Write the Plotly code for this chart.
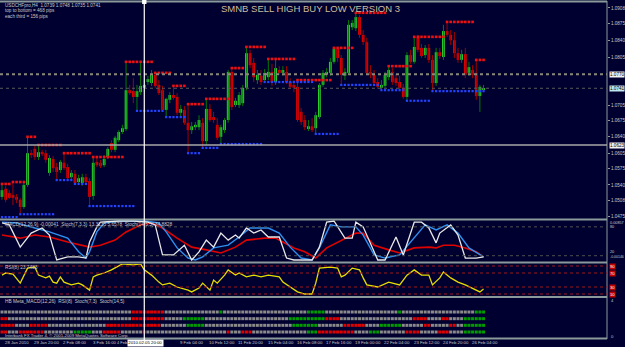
import plotly.graph_objects as go

W, H = 625, 347
PX_RIGHT = 607          # right edge of the chart area in pixels
BG = "#000030"

# ---------------- data ----------------
opens = [1.0515,1.0532,1.0523,1.0519,1.0515,1.0509,1.0494,1.0540,1.0606,1.0615,
         1.0598,1.0608,1.0606,1.0565,1.0594,1.0577,1.0571,1.0586,1.0577,1.0556,
         1.0563,1.0546,1.0544,1.0556,1.0548,1.0517,1.0588,1.0586,1.0581,1.0598,
         1.0627,1.0613,1.0633,1.0650,1.0656,1.0737,1.0735,1.0723,1.0733,1.0742,
         1.0754,1.0752,1.0769,1.0748,1.0737,1.0696,1.0717,1.0727,1.0723,1.0690,
         1.0696,1.0669,1.0654,1.0660,1.0660,1.0669,1.0631,1.0698,1.0681,1.0665,
         1.0640,1.0654,1.0675,1.0775,1.0706,1.0706,1.0710,1.0742,1.0814,1.0794,
         1.0758,1.0767,1.0758,1.0764,1.0775,1.0754,1.0779,1.0773,1.0775,1.0754,
         1.0748,1.0744,1.0692,1.0675,1.0658,1.0662,1.0658,1.0681,1.0748,1.0769,
         1.0773,1.0796,1.0823,1.0804,1.0767,1.0773,1.0868,1.0866,1.0889,1.0852,
         1.0837,1.0775,1.0769,1.0754,1.0742,1.0746,1.0764,1.0775,1.0762,1.0754,
         1.0742,1.0723,1.0810,1.0796,1.0846,1.0825,1.0810,1.0825,1.0800,1.0752,
         1.0816,1.0806,1.0860,1.0852,1.0841,1.0814,1.0800,1.0812,1.0773,1.0779,
         1.0773,1.0725,1.0739]
highs = [1.0542,1.0538,1.0529,1.0546,1.0521,1.0513,1.0544,1.0640,1.0613,1.0621,
         1.0623,1.0613,1.0613,1.0602,1.0600,1.0586,1.0592,1.0606,1.0584,1.0571,
         1.0571,1.0561,1.0563,1.0563,1.0554,1.0598,1.0596,1.0592,1.0602,1.0619,
         1.0633,1.0642,1.0654,1.0665,1.0796,1.0748,1.0762,1.0748,1.0794,1.0758,
         1.0767,1.0779,1.0773,1.0758,1.0746,1.0721,1.0733,1.0746,1.0731,1.0706,
         1.0704,1.0708,1.0671,1.0671,1.0685,1.0679,1.0719,1.0708,1.0692,1.0679,
         1.0665,1.0679,1.0779,1.0783,1.0721,1.0733,1.0748,1.0827,1.0821,1.0804,
         1.0779,1.0779,1.0781,1.0802,1.0792,1.0800,1.0787,1.0787,1.0787,1.0762,
         1.0758,1.0758,1.0700,1.0685,1.0675,1.0679,1.0692,1.0752,1.0779,1.0783,
         1.0804,1.0825,1.0825,1.0810,1.0783,1.0883,1.0883,1.0898,1.0893,1.0862,
         1.0846,1.0789,1.0779,1.0762,1.0758,1.0775,1.0787,1.0783,1.0771,1.0767,
         1.0750,1.0816,1.0821,1.0848,1.0852,1.0833,1.0831,1.0833,1.0810,1.0825,
         1.0825,1.0873,1.0879,1.0862,1.0858,1.0825,1.0821,1.0825,1.0796,1.0789,
         1.0800,1.0748,1.0748]
lows = [1.0509,1.0504,1.0511,1.0498,1.0502,1.0480,1.0490,1.0536,1.0596,1.0592,
        1.0592,1.0600,1.0586,1.0559,1.0567,1.0550,1.0565,1.0571,1.0550,1.0550,
        1.0542,1.0540,1.0538,1.0542,1.0496,1.0509,1.0577,1.0575,1.0577,1.0594,
        1.0608,1.0608,1.0629,1.0646,1.0652,1.0727,1.0710,1.0694,1.0727,1.0733,
        1.0748,1.0746,1.0742,1.0727,1.0692,1.0681,1.0710,1.0717,1.0685,1.0683,
        1.0665,1.0606,1.0646,1.0654,1.0654,1.0617,1.0623,1.0671,1.0669,1.0633,
        1.0625,1.0648,1.0669,1.0696,1.0702,1.0700,1.0704,1.0737,1.0783,1.0754,
        1.0750,1.0748,1.0754,1.0758,1.0746,1.0748,1.0769,1.0767,1.0750,1.0742,
        1.0733,1.0671,1.0665,1.0654,1.0652,1.0650,1.0646,1.0677,1.0744,1.0764,
        1.0767,1.0792,1.0796,1.0748,1.0758,1.0769,1.0862,1.0860,1.0846,1.0831,
        1.0769,1.0762,1.0746,1.0740,1.0737,1.0742,1.0758,1.0748,1.0746,1.0737,
        1.0719,1.0715,1.0792,1.0792,1.0816,1.0804,1.0804,1.0794,1.0735,1.0746,
        1.0802,1.0800,1.0848,1.0831,1.0804,1.0794,1.0794,1.0762,1.0767,1.0762,
        1.0717,1.0692,1.0735]
closes = [1.0529,1.0509,1.0513,1.0513,1.0509,1.0494,1.0540,1.0606,1.0602,1.0598,
          1.0608,1.0604,1.0592,1.0596,1.0575,1.0567,1.0588,1.0575,1.0554,1.0565,
          1.0544,1.0554,1.0556,1.0546,1.0515,1.0586,1.0581,1.0579,1.0594,1.0615,
          1.0613,1.0638,1.0650,1.0658,1.0737,1.0731,1.0723,1.0735,1.0746,1.0748,
          1.0760,1.0769,1.0746,1.0731,1.0696,1.0719,1.0727,1.0721,1.0690,1.0698,
          1.0669,1.0654,1.0662,1.0665,1.0675,1.0631,1.0698,1.0675,1.0675,1.0638,
          1.0660,1.0675,1.0775,1.0702,1.0715,1.0727,1.0742,1.0814,1.0789,1.0764,
          1.0769,1.0754,1.0773,1.0775,1.0754,1.0783,1.0773,1.0779,1.0754,1.0744,
          1.0742,1.0675,1.0671,1.0660,1.0662,1.0654,1.0685,1.0748,1.0773,1.0775,
          1.0796,1.0823,1.0804,1.0769,1.0775,1.0873,1.0877,1.0889,1.0852,1.0837,
          1.0773,1.0769,1.0752,1.0744,1.0748,1.0769,1.0779,1.0754,1.0752,1.0742,
          1.0723,1.0810,1.0796,1.0827,1.0821,1.0808,1.0825,1.0800,1.0752,1.0816,
          1.0808,1.0860,1.0852,1.0841,1.0814,1.0800,1.0812,1.0769,1.0785,1.0769,
          1.0725,1.0744,1.0741]

# SMNB levels: (first bar, last bar, price)
sell_levels = [(0,2,1.0542),(3,6,1.0546),(7,9,1.0640),(10,16,1.0623),(17,24,1.0606),
               (25,33,1.0598),(34,41,1.0796),(42,46,1.0773),(47,50,1.0746),(51,55,1.0708),
               (56,62,1.0719),(63,66,1.0783),(67,72,1.0827),(73,80,1.0802),(81,90,1.0758),
               (91,96,1.0825),(97,105,1.0898),(106,112,1.0787),(113,121,1.0848),
               (122,129,1.0879),(130,132,1.0800)]
buy_levels = [(0,4,1.0473),(5,14,1.0479),(15,19,1.0550),(20,23,1.0542),(24,36,1.0496),
              (37,44,1.0694),(45,50,1.0681),(51,54,1.0606),(55,59,1.0617),(60,71,1.0625),
              (72,85,1.0754),(86,92,1.0646),(93,103,1.0748),(104,110,1.0737),
              (111,117,1.0715),(118,132,1.0735)]

hlines = {"line": 1.0770, "bid": 1.0741, "low": 1.0623}
price_ticks = [1.0908,1.0875,1.0840,1.0805,1.0705,1.0675,1.0640,1.0605,1.0575,1.0540,1.0508,1.0475]

# oscillator pane (0-100 scale)
stoch_fast_idx = [0,2,5,8,11,13,15,18,21,23,24,26,27,32,36,40,42,44,47,50,52,54,56,58,60,62,64,65,67,69,
                  71,73,76,78,80,85,87,89,91,94,96,97,99,103,105,108,110,113,115,117,119,120,123,125,127,130,132]
stoch_fast = [95,90,33,69,82,64,0,8,8,5,46,85,97,100,100,97,90,13,13,38,0,21,51,33,69,51,64,56,82,69,
              77,59,59,5,0,0,33,97,100,56,56,97,85,0,0,59,13,97,97,82,44,69,90,64,5,5,8]
stoch_slow_idx = [0,4,9,13,18,21,23,24,26,28,32,39,43,45,48,51,53,55,58,62,65,68,73,76,79,82,85,87,90,93,
                  97,99,102,105,109,112,116,119,122,125,128,132]
stoch_slow = [97,95,82,72,56,21,5,21,72,95,100,100,95,72,31,5,0,8,31,38,59,82,82,69,33,5,0,31,90,85,
              85,64,13,5,13,46,90,77,90,69,31,8]
macd_idx = [0,5,9,13,18,24,27,31,34,38,41,44,48,52,56,60,64,67,72,75,77,80,83,86,89,93,97,99,102,106,
            109,113,117,119,121,124,127,130,132]
macd_line = [64,56,64,59,46,33,38,51,72,90,95,82,56,33,26,18,33,51,56,56,46,31,21,5,31,51,69,69,38,26,
             18,31,33,31,38,38,31,21,8]
osc_levels = [85, 11]

rsi_idx = [0,1,3,5,7,9,10,12,13,14,15,16,17,19,21,22,24,25,26,28,30,33,36,38,39,41,43,44,46,48,
           51,52,54,55,57,58,59,61,62,64,65,67,69,71,73,76,77,79,81,83,85,86,87,90,92,93,94,96,98,99,
           100,103,106,109,111,113,115,117,118,120,121,123,125,127,129,131,132]
rsi = [64,70,67,41,84,87,64,56,61,44,41,59,44,36,41,36,21,59,64,70,79,96,93,96,79,64,44,36,41,30,
       21,16,27,41,21,50,41,64,79,64,70,59,64,59,64,59,44,30,16,10,10,41,84,87,84,59,64,84,79,56,
       36,30,44,36,64,79,64,64,36,56,73,56,44,36,27,16,24]
rsi_levels = [90, 70, 30, 10]

# HB Meta signal rows, run-length coded: g = neutral, r = sell, G = buy
hb_rows = [
    [("g",36),("r",9),("g",15),("G",1),("g",23),("G",5),("g",20),("G",1),("g",20),("G",3)],
    [("r",2),("g",34),("r",9),("g",5),("G",6),("g",23),("G",10),("r",4),("g",20),("r",4),("g",4),("r",2),("g",4),("G",6)],
    [("r",4),("g",4),("r",5),("g",16),("r",15),("g",7),("G",5),("g",24),("G",7),("g",7),("r",6),("g",4),("G",6),("g",6),("r",2),("g",5),("r",2),("g",2),("G",6)],
    [("r",2),("g",3),("r",7),("g",8),("G",5),("g",3),("r",5),("g",6),("r",1),("g",22),("r",1),("g",3),("r",3),("g",15),("G",3),("r",10),("g",4),("G",3),("g",7),("r",4),("g",5),("r",3),("g",4),("G",6)],
]
hb_colors = {"g": "#8a8a8a", "r": "#e00000", "G": "#009c00"}

time_idx = [0,8,16,24,32,48,56,64,72,80,88,96,104,112,120,128]
time_txt = ["28 Jan 2010","29 Jan 20:00","2 Feb 08:00","3 Feb 16:00","4 Feb","9 Feb 04:00",
            "10 Feb 12:00","11 Feb 20:00","15 Feb 04:00","16 Feb 08:00","17 Feb 16:00","19 Feb 00:00",
            "22 Feb 04:00","23 Feb 12:00","24 Feb 20:00","26 Feb 04:00"]
cursor_bar = 39
cursor_txt = "2010.02.05 20:00"

# ---------------- figure ----------------
FONT = "Liberation Sans"
def fy(py):
    return 1 - py / H

fig = go.Figure()
n = len(opens)
idx = list(range(n))
up = [i for i in idx if closes[i] >= opens[i]]
dn = [i for i in idx if closes[i] < opens[i]]

def wick_xy(ids):
    xs, ys = [], []
    for i in ids:
        xs += [i, i, None]
        ys += [lows[i], highs[i], None]
    return xs, ys

for ids, col in ((up, "#007a00"), (dn, "#a00000")):
    wx, wy = wick_xy(ids)
    fig.add_trace(go.Scatter(x=wx, y=wy, mode="lines", line=dict(color=col, width=1), hoverinfo="skip"))

for ids, col in ((up, "#33d633"), (dn, "#e60000")):
    fig.add_trace(go.Bar(x=ids, y=[closes[i] - opens[i] for i in ids], base=[opens[i] for i in ids],
                         width=0.75, marker=dict(color=col, line=dict(width=0)), hoverinfo="skip"))

def expand(levels):
    xs, ys = [], []
    for s, e, v in levels:
        for i in range(s, e + 1):
            xs.append(i); ys.append(v)
    return xs, ys

sx, sy = expand(sell_levels)
fig.add_trace(go.Scatter(x=sx, y=sy, mode="markers",
                         marker=dict(symbol="square", size=2.6, color="#ee1010", line=dict(width=0))))
bx, by = expand(buy_levels)
fig.add_trace(go.Scatter(x=bx, y=by, mode="markers",
                         marker=dict(symbol="square", size=2.2, color="#2244ff", line=dict(width=0))))

# oscillators
fig.add_trace(go.Scatter(x=macd_idx, y=macd_line, mode="lines", line=dict(color="#e00000", width=1.6), yaxis="y2"))
fig.add_trace(go.Scatter(x=stoch_slow_idx, y=stoch_slow, mode="lines", line=dict(color="#2f8fef", width=1.4), yaxis="y2"))
fig.add_trace(go.Scatter(x=stoch_fast_idx, y=stoch_fast, mode="lines", line=dict(color="#e8e8e8", width=1.3), yaxis="y2"))
fig.add_trace(go.Scatter(x=rsi_idx, y=rsi, mode="lines", line=dict(color="#e6dc00", width=1.3), yaxis="y3"))

# HB Meta squares
for r, row in enumerate(hb_rows):
    xs, cs = [], []
    pos = 0
    for code, cnt in row:
        for _ in range(cnt):
            xs.append(pos); cs.append(hb_colors[code]); pos += 1
    fig.add_trace(go.Scatter(x=xs, y=[r + 1] * len(xs), mode="markers", yaxis="y4",
                             marker=dict(symbol="square", size=3, color=cs, line=dict(width=0))))

xr = [-0.55, (PX_RIGHT - 2) / 3.636 - 0.55]
fig.update_layout(
    width=W, height=H, margin=dict(l=0, r=0, t=0, b=0),
    paper_bgcolor=BG, plot_bgcolor=BG, showlegend=False, barmode="overlay",
    xaxis=dict(domain=[0, PX_RIGHT / W], range=xr, visible=False, anchor="y"),
    yaxis=dict(domain=[fy(219), fy(3)], range=[1.046908, 1.091836], side="right",
               tickvals=price_ticks, ticktext=[f"{v:.4f}" for v in price_ticks],
               tickfont=dict(size=4.6, color="#c8c8c8", family=FONT), ticks="outside",
               ticklen=2, tickcolor="#8a9a9a", showgrid=False, zeroline=False, showline=False),
    yaxis2=dict(domain=[fy(262), fy(220)], range=[-5.13, 102.56], anchor="x", visible=False),
    yaxis3=dict(domain=[fy(297), fy(264)], range=[1.43, 95.7], anchor="x", visible=False),
    yaxis4=dict(domain=[fy(338), fy(298)], range=[4.9, -1.1], anchor="x", visible=False),
)

shapes = []
xe = PX_RIGHT / W
BORDER = "#8a9a9a"
for py, wd in ((1.5, 2), (219.5, 2), (262.5, 2), (297, 2), (338.5, 2)):
    shapes.append(dict(type="line", xref="paper", yref="paper", x0=0, x1=xe, y0=fy(py), y1=fy(py),
                       line=dict(color=BORDER, width=wd)))
shapes.append(dict(type="line", xref="paper", yref="paper", x0=xe, x1=xe, y0=fy(339), y1=fy(1),
                   line=dict(color=BORDER, width=1)))
shapes.append(dict(type="line", xref="paper", yref="y", x0=0, x1=xe, y0=hlines["line"], y1=hlines["line"],
                   line=dict(color="#8a8878", width=2, dash="dot")))
shapes.append(dict(type="line", xref="paper", yref="y", x0=0, x1=xe, y0=hlines["bid"], y1=hlines["bid"],
                   line=dict(color="#5a5a5a", width=1, dash="dot")))
shapes.append(dict(type="line", xref="paper", yref="y", x0=0, x1=xe, y0=hlines["low"], y1=hlines["low"],
                   line=dict(color="#a8a8a8", width=1.5)))
for lv in osc_levels:
    shapes.append(dict(type="line", xref="paper", yref="y2", x0=0, x1=xe, y0=lv, y1=lv,
                       line=dict(color="#505050", width=1, dash="dot")))
for lv in rsi_levels:
    shapes.append(dict(type="line", xref="paper", yref="y3", x0=0, x1=xe, y0=lv, y1=lv,
                       line=dict(color="#a01818", width=1, dash="dot")))
shapes.append(dict(type="line", xref="x", yref="paper", x0=cursor_bar, x1=cursor_bar, y0=fy(340), y1=1,
                   line=dict(color="#ffffff", width=1.2)))
shapes.append(dict(type="rect", xref="x", yref="paper", x0=cursor_bar - 0.6, x1=cursor_bar + 0.6,
                   y0=fy(4), y1=1, fillcolor="#ffffff", line=dict(width=0)))
fig.update_layout(shapes=shapes)

ann = []
TXT = "#c8c8c8"
def txt(x, y, s, size=4.6, color=TXT, xref="paper", yref="paper", xanchor="left", **kw):
    ann.append(dict(x=x, y=y, text=s, xref=xref, yref=yref, xanchor=xanchor, yanchor="middle",
                    showarrow=False, font=dict(size=size, color=color, family=FONT), **kw))

txt(310 / W, fy(8.5), "SMNB SELL HIGH BUY LOW VERSION 3", size=9.5, color="#cbbd9c", xanchor="center")
txt(3 / W, fy(5), "USDCHFpro,H4  1.0739 1.0748 1.0735 1.0741")
txt(3 / W, fy(10.5), "top to bottom = 468 pips")
txt(3 / W, fy(16), "each third = 156 pips")

for key, bg in (("line", "#f2f2f2"), ("bid", "#bfe8f0"), ("low", "#f2f2f2")):
    v = hlines[key]
    txt(xe, v, f"{v:.4f}", size=4.6, color="#000000", yref="y", xshift=2, bgcolor=bg, borderpad=0)

txt(3 / W, fy(224.5), "MACD(12,26,9) -0.00041  Stoch(7,3,3) 13.3135 5.6578  Stoch(14,5,5) 34.8828", size=4.8)
txt(xe, fy(222.5), "0.00857", size=3.8, xshift=1)
txt(xe, fy(227), "80", size=3.8, xshift=1)
txt(xe, fy(252), "20", size=3.8, xshift=1)
txt(xe, fy(257), "-0.00146", size=3.5, xshift=1)

txt(3 / W, fy(267.5), "RSI(8) 23.7483", size=4.8)
for lv in rsi_levels:
    txt(xe, lv, str(lv), size=4.2, color="#ffffff", yref="y3", xshift=2, bgcolor="#c00000", borderpad=0)

txt(3 / W, fy(301.5), "HB Meta_MACD(12,26)  RSI(8)  Stoch(7,3)  Stoch(14,5)", size=4.8)
txt(3 / W, fy(335.5), "Interbank FX Trader 4, \u00a9 2001-2009 MetaQuotes Software Corp.", size=4.3)
txt(xe, fy(300.5), "4", size=4.2, xshift=2)
txt(xe, fy(336), "0", size=4.2, xshift=2)

for i, s in zip(time_idx, time_txt):
    shift = -4 if i == 32 else 1
    txt(i, fy(342.5), s, size=4.0 if i == 32 else 4.3, xref="x", xshift=shift)
txt(cursor_bar, fy(342.5), cursor_txt, size=4.3, color="#000000", xref="x", xanchor="center",
    bgcolor="#ffffff", borderpad=0.3, xshift=1)

fig.update_layout(annotations=ann)
fig.write_html("out.html")
